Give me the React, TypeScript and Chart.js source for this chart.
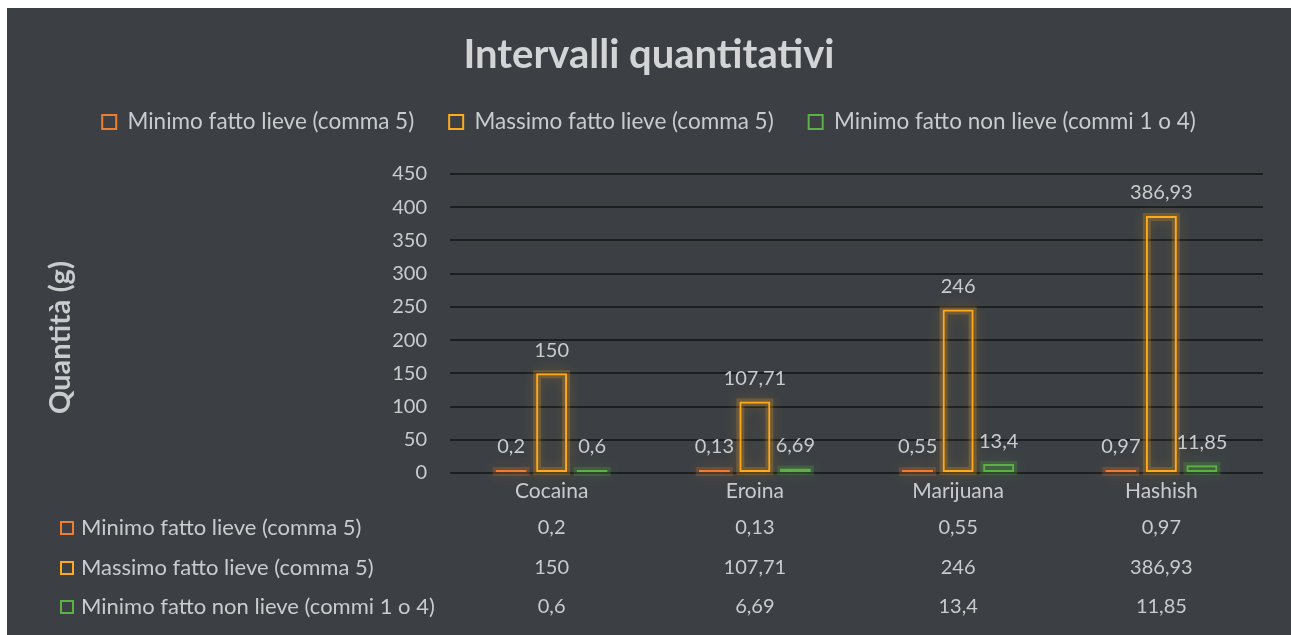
import React, { useEffect, useRef } from 'react';
import { Chart, registerables } from 'chart.js';

Chart.register(...registerables);

// ---- Data ----
const categories = ['Cocaina', 'Eroina', 'Marijuana', 'Hashish'];
const seriesNames = [
  'Minimo fatto lieve (comma 5)',
  'Massimo fatto lieve (comma 5)',
  'Minimo fatto non lieve (commi 1 o 4)',
];
const minimoLieve = [0.2, 0.13, 0.55, 0.97];
const massimoLieve = [150, 107.71, 246, 386.93];
const minimoNonLieve = [0.6, 6.69, 13.4, 11.85];
const yTickValues = [0, 50, 100, 150, 200, 250, 300, 350, 400, 450];
const chartTitle = 'Intervalli quantitativi';
const yAxisTitle = 'Quantità (g)';

// ---- Styles ----
const BG = '#3c4044';
const TEXT = '#c9cbcd';
const TITLE_TEXT = '#d2d4d6';
const GRID = '#1c1e20';
const COLORS = ['#ED7D31', '#FFAA1C', '#5BB146'];
const FONT = 'Lato, "Liberation Sans", sans-serif';

const fmt = (v: number) => String(v).replace('.', ',');

const bgPlugin = {
  id: 'bgFill',
  beforeDraw(chart: any) {
    const { ctx, width, height } = chart;
    ctx.save();
    ctx.fillStyle = BG;
    ctx.fillRect(0, 0, width, height);
    ctx.restore();
  },
};

const glowPlugin = {
  id: 'barGlow',
  beforeDatasetDraw(chart: any, args: any) {
    const ctx = chart.ctx;
    const color = COLORS[args.index];
    const meta = chart.getDatasetMeta(args.index);
    ctx.save();
    meta.data.forEach((bar: any) => {
      const left = bar.x - bar.width / 2;
      const top = Math.min(bar.y, bar.base);
      const h = Math.abs(bar.base - bar.y);
      ctx.shadowColor = color + 'aa';
      ctx.shadowBlur = 14;
      ctx.strokeStyle = color + '38';
      ctx.lineWidth = 8;
      ctx.strokeRect(left + 1, top + 1, bar.width - 2, Math.max(h - 2, 1));
    });
    ctx.restore();
  },
};

const labelPlugin = {
  id: 'valueLabels',
  afterDatasetsDraw(chart: any) {
    const ctx = chart.ctx;
    ctx.save();
    ctx.font = `20px ${FONT}`;
    ctx.fillStyle = TEXT;
    ctx.textAlign = 'center';
    ctx.textBaseline = 'middle';
    chart.data.datasets.forEach((ds: any, i: number) => {
      const meta = chart.getDatasetMeta(i);
      meta.data.forEach((bar: any, j: number) => {
        ctx.fillText(fmt(ds.data[j]), bar.x, bar.y - 23);
      });
    });
    ctx.restore();
  },
};

const tablePlugin = {
  id: 'dataTable',
  afterDraw(chart: any) {
    const ctx = chart.ctx;
    const xScale = chart.scales.x;
    const bottom = chart.chartArea.bottom;
    const offsets = [55, 95, 134];
    ctx.save();
    ctx.textBaseline = 'middle';
    chart.data.datasets.forEach((ds: any, i: number) => {
      const y = bottom + offsets[i];
      ctx.strokeStyle = COLORS[i];
      ctx.lineWidth = 2;
      ctx.strokeRect(54, y - 6, 12, 12);
      ctx.fillStyle = TEXT;
      ctx.textAlign = 'left';
      ctx.font = `22px ${FONT}`;
      ctx.fillText(ds.label, 74, y);
      ctx.textAlign = 'center';
      ctx.font = `20px ${FONT}`;
      ds.data.forEach((v: number, j: number) => {
        ctx.fillText(fmt(v), xScale.getPixelForValue(j), y);
      });
    });
    ctx.restore();
  },
};

export default function App() {
  const ref = useRef<HTMLCanvasElement | null>(null);

  useEffect(() => {
    if (!ref.current) return;
    Chart.defaults.font.family = FONT;
    const seriesData = [minimoLieve, massimoLieve, minimoNonLieve];
    const chart = new Chart(ref.current, {
      type: 'bar',
      data: {
        labels: categories,
        datasets: seriesNames.map((name, i) => ({
          label: name,
          data: seriesData[i],
          backgroundColor: 'transparent',
          borderColor: COLORS[i],
          borderWidth: 2,
          borderSkipped: false,
          minBarLength: 3,
          categoryPercentage: 0.598,
          barPercentage: 0.765,
        })),
      },
      options: {
        responsive: false,
        animation: false,
        events: [],
        layout: { padding: { left: 28, right: 28, top: 0, bottom: 0 } },
        plugins: {
          title: {
            display: true,
            text: chartTitle,
            color: TITLE_TEXT,
            font: { size: 40, weight: 'bold', family: FONT, lineHeight: 1 },
            padding: { top: 27, bottom: 0.75 },
          },
          subtitle: {
            display: true,
            text: '',
            weight: 500,
            font: { size: 10 },
            padding: { top: 0, bottom: 18.75 },
          } as any,
          legend: {
            display: true,
            position: 'top',
            labels: {
              color: TEXT,
              font: { size: 22.5, family: FONT },
              boxWidth: 14,
              boxHeight: 14,
              padding: 35,
            },
          },
          tooltip: { enabled: false },
        },
        scales: {
          x: {
            grid: { display: false, drawTicks: false },
            border: { display: false },
            ticks: { color: TEXT, font: { size: 21 }, padding: 6 },
            afterFit: (scale: any) => {
              scale.height = 162;
            },
          },
          y: {
            min: 0,
            max: 450,
            afterBuildTicks: (scale: any) => {
              scale.ticks = yTickValues.map((v) => ({ value: v }));
            },
            grid: { color: GRID, lineWidth: 2, drawTicks: false },
            border: { display: false },
            ticks: { color: TEXT, font: { size: 20 }, padding: 23 },
            title: {
              display: true,
              text: yAxisTitle + '    ',
              color: TEXT,
              font: { size: 29, weight: 'bold' },
              padding: { top: 8.6, bottom: 0 },
            },
            afterFit: (scale: any) => {
              scale.width = 415;
            },
          },
        },
      },
      plugins: [bgPlugin, glowPlugin, labelPlugin, tablePlugin],
    });
    return () => chart.destroy();
  }, []);

  return (
    <div style={{ position: 'fixed', left: 7, top: 8, width: 1284, height: 627 }}>
      <canvas ref={ref} width={1284} height={627} style={{ display: 'block' }} />
    </div>
  );
}
